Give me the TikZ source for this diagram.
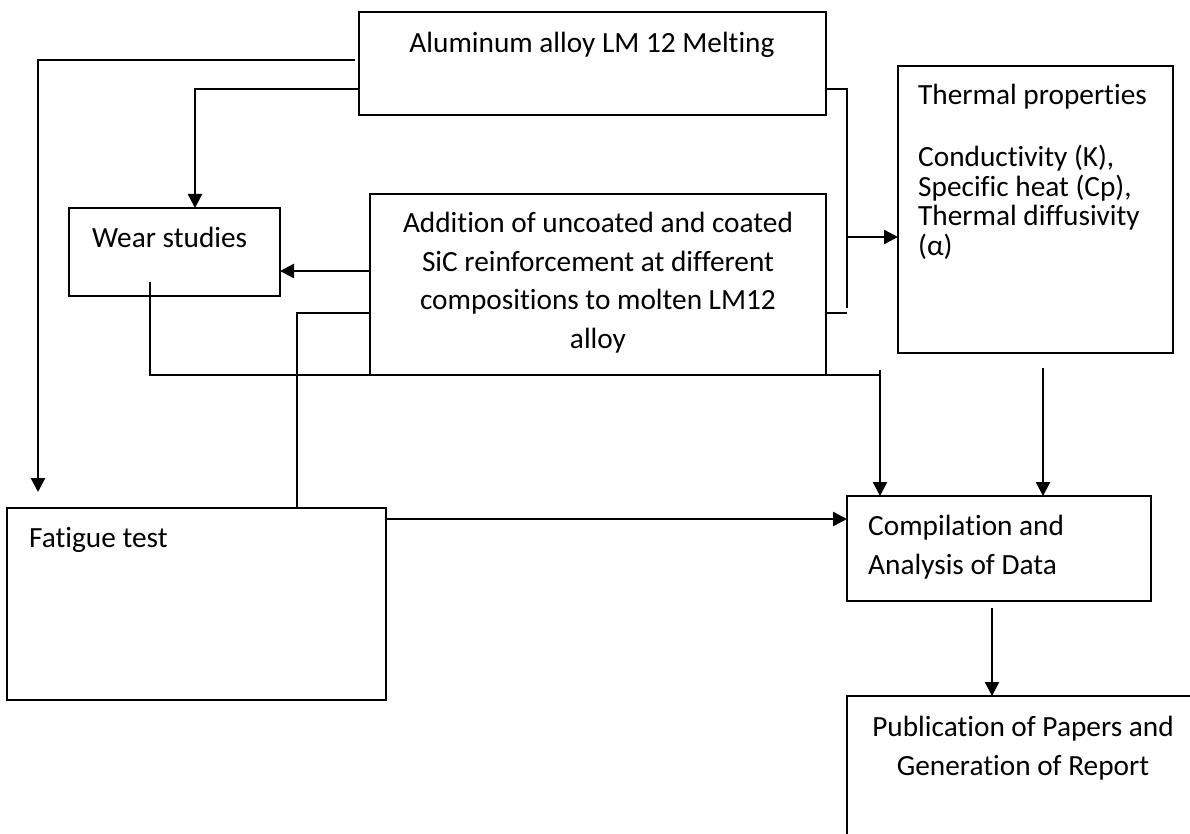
\documentclass[tikz,border=0pt]{standalone}
\usepackage{fontspec}
\setmainfont{Carlito}[Ligatures=NoCommon]
\usetikzlibrary{arrows.meta}
\begin{document}
\begin{tikzpicture}[x=1pt,y=-1pt,
  box/.style={draw, line width=1.6pt, inner sep=0pt, outer sep=0pt},
  txt/.style={inner sep=0pt, font=\fontsize{29.3}{38.5}\selectfont},
  ttxt/.style={inner sep=0pt, font=\fontsize{29.3}{29.5}\selectfont},
  conn/.style={line width=2.4pt},
  arr/.style={conn, -{Triangle[length=14pt,width=14pt]}}]
\useasboundingbox (0,0) rectangle (1190,834);
\clip (0,0) rectangle (1190,834);
\fill[white] (0,0) rectangle (1190,834);
% boxes
\node[box, minimum width=467pt, minimum height=103pt] (al) at (592.5,63.5) {};
\node[box, minimum width=456pt, minimum height=181pt] (add) at (598,284.5) {};
\node[box, minimum width=211pt, minimum height=88pt] (wear) at (174.5,252) {};
\node[box, minimum width=275pt, minimum height=287pt] (therm) at (1035.5,209.5) {};
\node[box, minimum width=379pt, minimum height=192pt] (fat) at (196.5,604) {};
\node[box, minimum width=304pt, minimum height=105pt] (comp) at (999,548.5) {};
\node[box, minimum width=400pt, minimum height=200pt] (pub) at (1047,796) {};
% texts
\node[txt, anchor=north] (alt) at (592,32) {Aluminum alloy LM 12 Melting};
\node[txt, anchor=north, align=center] (addt) at (598,212) {Addition of uncoated and coated\\SiC reinforcement at different\\compositions to molten LM12\\alloy};
\node[txt, anchor=north west] (weart) at (92,227) {Wear studies};
\node[txt, anchor=north west] (thermt) at (918,84) {Thermal properties};
\node[ttxt, anchor=north west, align=left] (thermt2) at (918,145) {Conductivity (K),\\Specific heat (Cp),\\Thermal diffusivity\\(α)};
\node[txt, anchor=north west] (fatt) at (29,527) {Fatigue test};
\node[txt, anchor=north west, align=left] (compt) at (868,515) {Compilation and\\Analysis of Data};
\node[txt, anchor=north, align=center] (pubt) at (1023,716) {Publication of Papers and\\Generation of Report};
% free-end coordinates
\coordinate (a1) at (355,60);
\coordinate (fattip) at (38,492);
\coordinate (j1) at (847,308);
\coordinate (j2) at (847,237);
\coordinate (w1) at (150,282);
\coordinate (w2) at (880,375);
\coordinate (c1) at (880,370);
\coordinate (t1) at (1043,368);
\coordinate (p1) at (992,608);
% connectors
\draw[arr] (a1) -| (fattip);
\draw[arr] (al.west |- 0,89) -| (195,0 |- wear.north);
\draw[conn] (al.east |- 0,89) -| (j1);
\draw[conn] (add.east |- 0,313) -- (847,313);
\draw[arr] (j2) -- (therm.west |- j2);
\draw[arr] (add.west |- 0,271) -- (wear.east |- 0,271);
\draw[conn] (w1) |- (w2);
\draw[arr] (c1) -- (c1 |- comp.north);
\draw[conn] (297,0 |- fat.north) |- (add.west |- 0,313);
\draw[arr] (fat.east |- 0,519) -- (comp.west |- 0,519);
\draw[arr] (t1) -- (t1 |- comp.north);
\draw[arr] (p1) -- (p1 |- pub.north);
\end{tikzpicture}
\end{document}
